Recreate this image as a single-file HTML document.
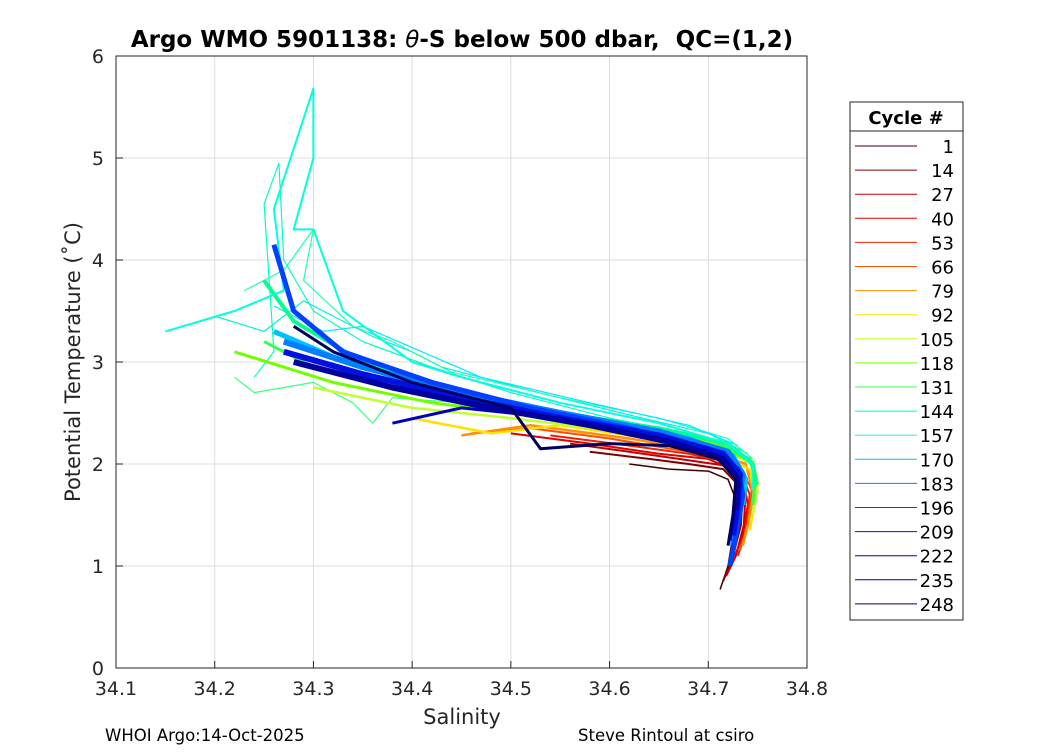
<!DOCTYPE html>
<html><head><meta charset="utf-8">
<style>
body{margin:0;background:#fff;font-family:"Liberation Sans","DejaVu Sans",sans-serif;}
svg text{font-family:"DejaVu Sans","Liberation Sans",sans-serif;}
</style></head>
<body>
<svg id="chart" width="1050" height="750" viewBox="0 0 1050 750" xmlns="http://www.w3.org/2000/svg">
<rect x="0" y="0" width="1050" height="750" fill="#fff"/>
<g id="grid"></g>
<g id="series"></g>
<rect x="116" y="56" width="691" height="612" fill="none" stroke="#262626" stroke-width="1"/>
<g id="ticks"></g>
<text x="462" y="47" text-anchor="middle" font-size="23" font-weight="bold" fill="#000" xml:space="preserve">Argo WMO 5901138: <tspan font-style="italic" font-weight="normal">θ</tspan>-S below 500 dbar,  QC=(1,2)</text>
<text x="462" y="724" text-anchor="middle" font-size="21" fill="#262626">Salinity</text>
<text transform="translate(80,362) rotate(-90)" text-anchor="middle" font-size="21" fill="#262626">Potential Temperature (˚C)</text>
<text x="105" y="741" font-size="16.5" fill="#000">WHOI Argo:14-Oct-2025</text>
<text x="578" y="741" font-size="16.5" fill="#000">Steve Rintoul at csiro</text>
<g id="legend"></g>
</svg>
<script>
const xTicks=[34.1,34.2,34.3,34.4,34.5,34.6,34.7,34.8];
const yTicks=[0,1,2,3,4,5,6];
const cycles=[1,14,27,40,53,66,79,92,105,118,131,144,157,170,183,196,209,222,235,248];
const colors=["#400000","#800000","#c00000","#e00000","#f02000","#ff5000","#ff9000","#ffe000","#c0ff30","#70ff00","#30ff50","#00ff90","#00ffe0","#00c0ff","#0080ff","#0040ff","#0010e0","#0000c0","#0000a0","#000060"];
const profiles=[
[[34.62,2.0],[34.66,1.95],[34.70,1.93],[34.72,1.85],[34.73,1.6],[34.725,1.3],[34.72,1.0],[34.712,0.77]],
[[34.58,2.12],[34.64,2.05],[34.68,2.0],[34.715,1.95],[34.735,1.75],[34.733,1.4],[34.725,1.1],[34.715,0.85]],
[[34.56,2.2],[34.62,2.12],[34.67,2.05],[34.72,1.98],[34.738,1.75],[34.736,1.4],[34.728,1.1],[34.718,0.9]],
[[34.50,2.3],[34.58,2.2],[34.65,2.1],[34.70,2.05],[34.735,1.9],[34.74,1.6],[34.735,1.3],[34.725,1.05]],
[[34.54,2.28],[34.62,2.18],[34.68,2.1],[34.73,2.0],[34.742,1.7],[34.738,1.35],[34.73,1.1]],
[[34.46,2.3],[34.52,2.35],[34.60,2.25],[34.68,2.12],[34.73,2.02],[34.744,1.75],[34.74,1.4],[34.732,1.15]],
[[34.45,2.28],[34.52,2.38],[34.62,2.25],[34.70,2.12],[34.738,2.0],[34.746,1.7],[34.74,1.4],[34.735,1.2]],
[[34.40,2.45],[34.48,2.3],[34.55,2.38],[34.64,2.25],[34.71,2.1],[34.742,1.95],[34.748,1.65],[34.742,1.35]],
[[34.30,2.75],[34.40,2.55],[34.50,2.45],[34.60,2.33],[34.70,2.2],[34.745,2.0],[34.75,1.75],[34.745,1.5]],
[[34.22,3.1],[34.32,2.8],[34.42,2.6],[34.52,2.48],[34.62,2.35],[34.70,2.22],[34.745,2.02],[34.75,1.8]],
[[34.25,3.2],[34.30,2.95],[34.40,2.7],[34.50,2.53],[34.60,2.4],[34.70,2.25],[34.742,2.05],[34.748,1.85],[34.745,1.6]],
[[34.25,3.8],[34.28,3.4],[34.35,3.0],[34.45,2.7],[34.55,2.5],[34.65,2.35],[34.72,2.2],[34.745,2.0],[34.748,1.8]],
[[34.15,3.3],[34.22,3.5],[34.27,3.7],[34.26,4.5],[34.30,5.68],[34.30,5.0],[34.28,4.3],[34.30,4.3],[34.33,3.5],[34.40,3.0],[34.45,2.85],[34.55,2.6],[34.65,2.4],[34.72,2.2],[34.745,2.0],[34.745,1.75]],
[[34.26,3.3],[34.32,3.05],[34.40,2.8],[34.50,2.6],[34.60,2.4],[34.68,2.25],[34.725,2.08],[34.738,1.85],[34.735,1.6]],
[[34.27,3.2],[34.35,2.95],[34.45,2.7],[34.55,2.5],[34.65,2.32],[34.72,2.12],[34.735,1.9],[34.73,1.6],[34.725,1.2]],
[[34.26,4.15],[34.28,3.5],[34.33,3.1],[34.42,2.8],[34.52,2.55],[34.62,2.35],[34.70,2.15],[34.73,1.95],[34.735,1.7],[34.73,1.4],[34.722,1.0]],
[[34.27,3.1],[34.35,2.88],[34.45,2.65],[34.55,2.45],[34.65,2.28],[34.715,2.1],[34.732,1.9],[34.73,1.6],[34.725,1.3]],
[[34.38,2.4],[34.45,2.55],[34.55,2.45],[34.62,2.3],[34.70,2.12],[34.728,1.9],[34.728,1.6],[34.722,1.25]],
[[34.28,3.0],[34.38,2.75],[34.48,2.55],[34.58,2.38],[34.66,2.22],[34.715,2.05],[34.73,1.85],[34.728,1.55]],
[[34.28,3.35],[34.32,3.1],[34.40,2.8],[34.50,2.55],[34.53,2.15],[34.60,2.2],[34.66,2.18],[34.71,2.05],[34.728,1.85],[34.725,1.5],[34.72,1.2]]
];
const extraProfiles=[
[[34.24,2.85],[34.26,3.1],[34.25,4.55],[34.265,4.95],[34.27,4.0],[34.30,3.5],[34.35,3.2],[34.42,2.95],[34.50,2.7],[34.60,2.45],[34.68,2.3],[34.735,2.1],[34.742,1.85]],
[[34.20,3.45],[34.25,3.3],[34.29,3.6],[34.32,3.45],[34.36,3.25],[34.40,3.1],[34.43,2.95],[34.52,2.72],[34.62,2.48],[34.70,2.3],[34.74,2.1]],
[[34.23,3.7],[34.27,3.9],[34.30,4.3],[34.29,3.8],[34.34,3.35],[34.38,3.2],[34.44,2.9],[34.55,2.65],[34.65,2.45],[34.72,2.25],[34.745,2.05]],
[[34.22,2.85],[34.24,2.7],[34.30,2.8],[34.34,2.6],[34.36,2.4],[34.38,2.65],[34.45,2.6],[34.52,2.5]],
[[34.26,3.55],[34.31,3.3],[34.35,3.35],[34.41,3.1],[34.47,2.85],[34.58,2.6],[34.68,2.38],[34.73,2.18]]
];
const extraColors=["#00ffc0","#00f0e0","#20ffb0","#40ff80","#00e8ff"];
const widths=[1.5,2,2,2,2,2,2.5,2.5,2.5,3,3,4,2,5,6,5,6,3,6,3];

const X0=116,X1=807,Y0=668,Y1=56;
const sx=v=>X0+(v-34.1)/(34.8-34.1)*(X1-X0);
const sy=v=>Y0-(v-0)/(6-0)*(Y0-Y1);
const NS="http://www.w3.org/2000/svg";
function mk(tag,attrs,parent){const e=document.createElementNS(NS,tag);for(const k in attrs)e.setAttribute(k,attrs[k]);parent.appendChild(e);return e;}
const grid=document.getElementById('grid'),ticks=document.getElementById('ticks'),series=document.getElementById('series'),legend=document.getElementById('legend');
xTicks.forEach(t=>{
  const x=sx(t);
  const g=mk('line',{x1:x,x2:x,y1:Y1,y2:Y0,stroke:'#dcdcdc','stroke-width':1},grid);
  
  
  mk('line',{x1:x,x2:x,y1:Y0,y2:Y0-7,stroke:'#262626'},ticks);
  const tx=mk('text',{x:x,y:Y0+27,'text-anchor':'middle','font-size':19,fill:'#262626'},ticks);
  tx.textContent=t.toFixed(1);
  
  
});
yTicks.forEach(t=>{
  const y=sy(t);
  const g=mk('line',{x1:X0,x2:X1,y1:y,y2:y,stroke:'#dcdcdc','stroke-width':1},grid);
  
  
  mk('line',{x1:X0,x2:X0+7,y1:y,y2:y,stroke:'#262626'},ticks);
  const tx=mk('text',{x:X0-12,y:y+7,'text-anchor':'end','font-size':19,fill:'#262626'},ticks);
  tx.textContent=t;
  
  
});
function drawProfile(pts,color,w){
  const d=pts.map((p,i)=>(i?'L':'M')+sx(p[0]).toFixed(1)+','+sy(p[1]).toFixed(1)).join('');
  const p=mk('path',{d:d,fill:'none',stroke:color,'stroke-width':w,'stroke-linejoin':'round'},series);
  
  
}
extraProfiles.forEach((pts,i)=>drawProfile(pts,extraColors[i],1.2));
profiles.forEach((pts,i)=>drawProfile(pts,colors[i],widths[i]));
const lb=mk('rect',{x:850,y:102,width:113,height:518,fill:'#fff',stroke:'#262626'},legend);


mk('line',{x1:850,x2:963,y1:131,y2:131,stroke:'#262626'},legend);
const lt=mk('text',{x:906,y:124,'text-anchor':'middle','font-size':18,'font-weight':'bold',fill:'#000'},legend);
lt.textContent='Cycle #';


cycles.forEach((c,i)=>{
  const y=146+i*24.1;
  const l=mk('line',{x1:855,x2:917,y1:y,y2:y,stroke:colors[i],'stroke-width':1},legend);
  
  
  const t=mk('text',{x:954,y:y+7,'text-anchor':'end','font-size':18,fill:'#000'},legend);
  t.textContent=c;
  
  
});
</script>
</body></html>
